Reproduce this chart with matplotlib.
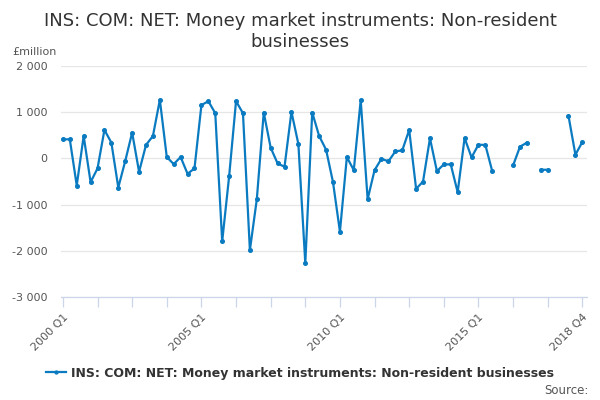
import numpy as np
import matplotlib
matplotlib.use("Agg")
import matplotlib.pyplot as plt

# quarterly values, 2000 Q1 .. 2018 Q4 (£million), gaps = missing
quarters = [f"{y} Q{q}" for y in range(2000, 2019) for q in range(1, 5)]
values = [
    413, 413, -587, 485, -514, -217, 616, 341, -630, -58,
    558, -290, 290, 485, 1268, 29, -123, 29, -333, -217,
    1152, 1239, 978, -1797, -391, 1239, 978, -1986, -884, 993,
    232, -109, -181, 1007, 312, -2268, 993, 485, 188, -514,
    -1587, 29, -254, 1261, -884, -254, -7, -65, 152, 174,
    616, -659, -500, 435, -275, -130, -130, -732, 442, 22,
    297, 290, -283, None, None, -152, 254, 341, None, -246,
    -246, None, None, 920, 80, 355,
]
tick_idx = list(range(0, 76, 5))  # every 5 quarters, ends on 2018 Q4
label_idx = {0: "2000 Q1", 20: "2005 Q1", 40: "2010 Q1", 60: "2015 Q1", 75: "2018 Q4"}
yticks = [-3000, -2000, -1000, 0, 1000, 2000]
ytick_labels = ["-3 000", "-2 000", "-1 000", "0", "1 000", "2 000"]

series_name = "INS: COM: NET: Money market instruments: Non-resident businesses"
line_col = "#0b7bc1"

y = np.array([np.nan if v is None else v for v in values], dtype=float)
x = np.arange(len(y))

fig = plt.figure(figsize=(6, 4), dpi=100)
ax = fig.add_axes([61.5 / 600, 1 - 297 / 400, 525 / 600, 231 / 400])

ax.plot(x, y, color=line_col, lw=1.6, marker="o", ms=2.6, zorder=3)

ax.set_xlim(-0.2, 75.6)
ax.set_ylim(-3000, 2000)
ax.set_yticks(yticks)
ax.set_yticklabels(ytick_labels, color="#555555", fontsize=8)
ax.tick_params(axis="y", length=0, pad=10)
ax.grid(axis="y", color="#e6e6e6", lw=0.9)
ax.set_axisbelow(True)

ax.set_xticks(tick_idx)
ax.set_xticklabels([label_idx.get(i, "") for i in tick_idx],
                   rotation=45, ha="right", rotation_mode="anchor",
                   color="#555555", fontsize=8)
ax.tick_params(axis="x", length=7, color="#ccd6eb", width=0.9, pad=4)

for s in ["top", "right", "left"]:
    ax.spines[s].set_visible(False)
ax.spines["bottom"].set_color("#ccd6eb")
ax.spines["bottom"].set_linewidth(0.9)

fig.text(0.5, 1 - 21 / 400, "INS: COM: NET: Money market instruments: Non-resident",
         ha="center", va="center", fontsize=13, color="#333333")
fig.text(0.5, 1 - 42 / 400, "businesses",
         ha="center", va="center", fontsize=13, color="#333333")
fig.text(12 / 600, 1 - 52 / 400, "£million", ha="left", va="center",
         fontsize=8, color="#555555")

ax.legend([series_name], loc="center", bbox_to_anchor=(300 / 600, 1 - 373 / 400),
          bbox_transform=fig.transFigure, frameon=False,
          prop={"weight": "bold", "size": 9}, labelcolor="#333333",
          handlelength=1.6, handletextpad=0.4, markerscale=0.8)
fig.text(589 / 600, 1 - 390 / 400, "Source:", ha="right", va="center",
         fontsize=8.5, color="#555555")

fig.savefig("out.png", dpi=100)
